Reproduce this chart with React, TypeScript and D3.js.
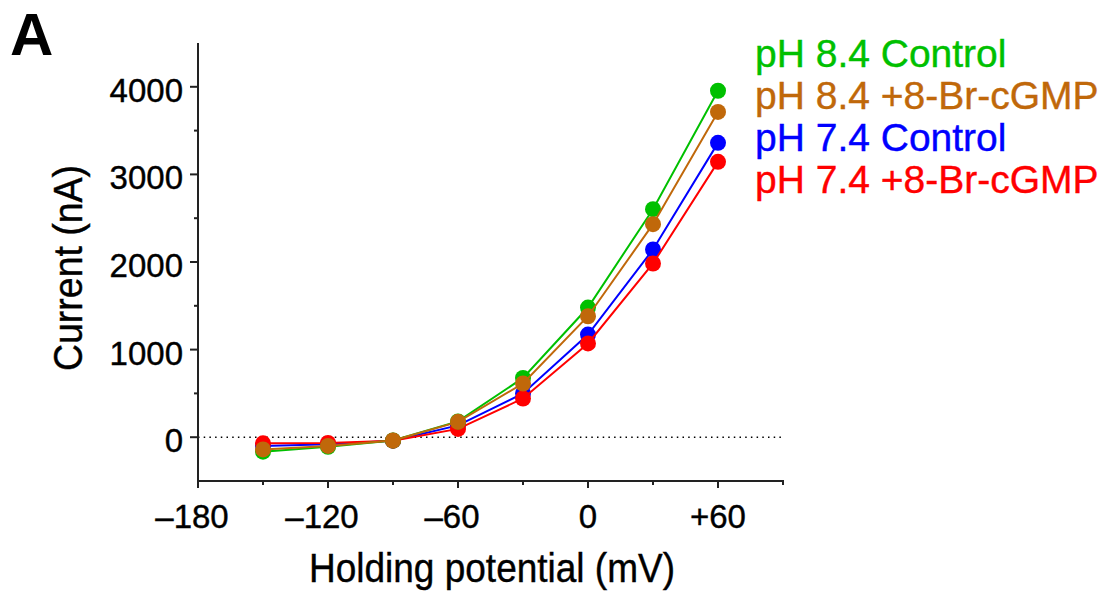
import React from "react";
import * as d3 from "d3";

const voltages = [-150, -120, -90, -60, -30, 0, 30, 60];
const ph84Control = [-165, -110, -38, 180, 677, 1480, 2603, 3955];
const ph84Br = [-140, -100, -38, 175, 613, 1381, 2432, 3713];
const ph74Control = [-100, -80, -40, 135, 499, 1172, 2143, 3360];
const ph74Br = [-70, -65, -40, 95, 442, 1070, 1983, 3143];

const seriesNames = ["pH 8.4 Control", "pH 8.4 +8-Br-cGMP", "pH 7.4 Control", "pH 7.4 +8-Br-cGMP"];
const seriesColors = ["#00c000", "#c0680a", "#0000ff", "#ff0000"];
const seriesValues = [ph84Control, ph84Br, ph74Control, ph74Br];
const drawOrder = [2, 3, 0, 1];

const xMajorTicks = [-180, -120, -60, 0, 60];
const xTickLabels = ["–180", "–120", "–60", "0", "+60"];
const xMinorTicks = [-150, -90, -30, 30, 90];
const yMajorTicks = [0, 1000, 2000, 3000, 4000];
const yMinorTicks = [500, 1500, 2500, 3500];

const FONT = "'Liberation Sans', Arial, Helvetica, sans-serif";

export default function App() {
  const x = d3.scaleLinear().domain([-180, 90]).range([198, 783]);
  const y = d3.scaleLinear().domain([-500, 4500]).range([481, 43]);
  const line = d3
    .line<[number, number]>()
    .x((d) => x(d[0]))
    .y((d) => y(d[1]));

  return (
    <svg
      width={1115}
      height={591}
      style={{ position: "absolute", left: 0, top: 0, background: "#fff" }}
      fontFamily={FONT}
    >
      <rect width={1115} height={591} fill="#fff" />
      <text x={10} y={55} fontSize={60} fontWeight="bold" fill="#000">
        A
      </text>

      {/* zero dotted line */}
      <line
        x1={x(-180)}
        x2={x(90)}
        y1={y(0)}
        y2={y(0)}
        stroke="#000"
        strokeWidth={1.5}
        strokeDasharray="1.5,4.2"
      />

      {/* y axis */}
      <line x1={x(-180)} x2={x(-180)} y1={y(4500)} y2={y(-500) + 7} stroke="#222" strokeWidth={2} />
      {yMajorTicks.map((t) => (
        <g key={"ym" + t}>
          <line x1={x(-180) - 8} x2={x(-180)} y1={y(t)} y2={y(t)} stroke="#222" strokeWidth={2} />
          <text x={183} y={y(t) + 15} textAnchor="end" fontSize={33} fill="#000" stroke="#000" strokeWidth={0.4}>
            {t}
          </text>
        </g>
      ))}
      {yMinorTicks.map((t) => (
        <line key={"yn" + t} x1={x(-180) - 4} x2={x(-180)} y1={y(t)} y2={y(t)} stroke="#222" strokeWidth={2} />
      ))}

      {/* x axis */}
      <line x1={x(-180) - 1} x2={x(90) + 1} y1={y(-500)} y2={y(-500)} stroke="#222" strokeWidth={2} />
      {xMajorTicks.map((t, i) => (
        <g key={"xm" + t}>
          <line x1={x(t)} x2={x(t)} y1={y(-500)} y2={y(-500) + 7} stroke="#222" strokeWidth={2} />
          <text
            x={x(t)}
            dx={t < 0 ? -6 : 0}
            y={y(-500) + 47}
            textAnchor="middle"
            fontSize={33}
            fill="#000"
            stroke="#000"
            strokeWidth={0.4}
          >
            {xTickLabels[i]}
          </text>
        </g>
      ))}
      {xMinorTicks.map((t) => (
        <line key={"xn" + t} x1={x(t)} x2={x(t)} y1={y(-500)} y2={y(-500) + 4} stroke="#222" strokeWidth={2} />
      ))}

      {/* axis titles */}
      <text
        x={492}
        y={582}
        textAnchor="middle"
        fontSize={40}
        fill="#000"
        stroke="#000"
        strokeWidth={0.4}
        textLength={366}
        lengthAdjust="spacingAndGlyphs"
      >
        Holding potential (mV)
      </text>
      <text
        transform={`translate(82, 268) rotate(-90)`}
        textAnchor="middle"
        fontSize={40}
        fill="#000"
        stroke="#000"
        strokeWidth={0.4}
        textLength={206}
        lengthAdjust="spacingAndGlyphs"
      >
        Current (nA)
      </text>

      {/* series */}
      {drawOrder.map((si) => {
        const pts: [number, number][] = voltages.map((v, i) => [v, seriesValues[si][i]]);
        return (
          <g key={"s" + si}>
            <path d={line(pts) || ""} fill="none" stroke={seriesColors[si]} strokeWidth={2} />
            {pts.map((p, i) => (
              <circle key={i} cx={x(p[0])} cy={y(p[1])} r={8} fill={seriesColors[si]} />
            ))}
          </g>
        );
      })}

      {/* legend */}
      {seriesNames.map((n, i) => (
        <text
          key={n}
          x={755}
          y={67 + i * 42}
          fontSize={39}
          fill={seriesColors[i]}
          stroke={seriesColors[i]}
          strokeWidth={0.4}
        >
          {n}
        </text>
      ))}
    </svg>
  );
}
